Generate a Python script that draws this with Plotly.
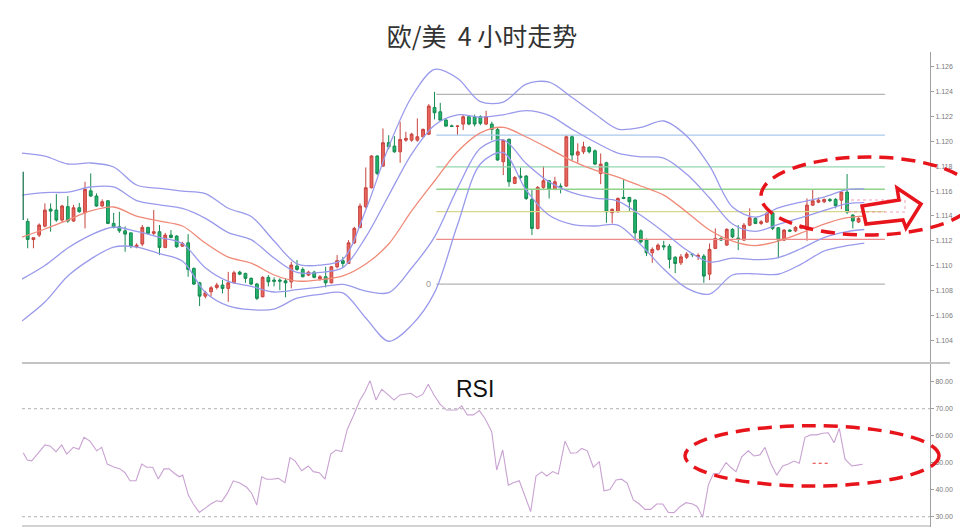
import plotly.graph_objects as go

# ---------------- data ----------------
candle_idx = list(range(146))
opens = [
1.11356, 1.11210, 1.11246, 1.11318, 1.11455, 1.11447, 1.11367, 1.11475, 1.11359, 1.11466,
1.11426, 1.11602, 1.11560, 1.11480, 1.11522, 1.11340, 1.11313, 1.11280, 1.11264, 1.11152,
1.11174, 1.11308, 1.11260, 1.11273, 1.11147, 1.11246, 1.11238, 1.11157, 1.11184, 1.10978,
1.10862, 1.10755, 1.10790, 1.10825, 1.10844, 1.10817, 1.10862, 1.10948, 1.10938, 1.10898,
1.10852, 1.10750, 1.10906, 1.10884, 1.10884, 1.10878, 1.10870, 1.10997, 1.10970, 1.10924,
1.10948, 1.10895, 1.10911, 1.10862, 1.10991, 1.11040, 1.11018, 1.11184, 1.11308, 1.11474,
1.11627, 1.11882, 1.11801, 1.11989, 1.11962, 1.11916, 1.12010, 1.12010, 1.12010, 1.12037,
1.12058, 1.12273, 1.12238, 1.12171, 1.12125, 1.12120, 1.12139, 1.12198, 1.12198, 1.12198,
1.12139, 1.12139, 1.12096, 1.11836, 1.12016, 1.11662, 1.11721, 1.11721, 1.11533, 1.11300,
1.11630, 1.11683, 1.11614, 1.11640, 1.11640, 1.12037, 1.11890, 1.11916, 1.11951, 1.11924,
1.11742, 1.11828, 1.11426, 1.11434, 1.11549, 1.11549, 1.11528, 1.11280, 1.11206, 1.11104,
1.11131, 1.11160, 1.11157, 1.11067, 1.11023, 1.11067, 1.11093, 1.11073, 1.11077, 1.10932,
1.11139, 1.11219, 1.11166, 1.11292, 1.11222, 1.11206, 1.11326, 1.11380, 1.11340, 1.11351,
1.11425, 1.11305, 1.11206, 1.11286, 1.11280, 1.11302, 1.11292, 1.11487, 1.11511, 1.11514,
1.11532, 1.11533, 1.11527, 1.11592, 1.11407, 1.11351]
highs = [
1.11380, 1.11225, 1.11340, 1.11501, 1.11501, 1.11576, 1.11490, 1.11560, 1.11490, 1.11505,
1.11675, 1.11742, 1.11582, 1.11533, 1.11528, 1.11425, 1.11434, 1.11316, 1.11264, 1.11179,
1.11327, 1.11313, 1.11447, 1.11327, 1.11264, 1.11286, 1.11246, 1.11192, 1.11254, 1.10986,
1.10870, 1.10798, 1.10836, 1.10862, 1.10884, 1.10950, 1.10959, 1.10959, 1.10943, 1.10906,
1.10862, 1.10916, 1.10924, 1.10906, 1.10898, 1.10898, 1.11031, 1.11045, 1.10986, 1.10959,
1.10959, 1.10924, 1.10991, 1.10997, 1.11085, 1.11071, 1.11206, 1.11313, 1.11501, 1.11790,
1.11890, 1.11890, 1.12104, 1.12050, 1.12042, 1.12158, 1.12077, 1.12069, 1.12185, 1.12104,
1.12300, 1.12398, 1.12310, 1.12185, 1.12135, 1.12130, 1.12211, 1.12210, 1.12215, 1.12210,
1.12246, 1.12158, 1.12112, 1.12016, 1.12024, 1.11721, 1.11790, 1.11729, 1.11608, 1.11640,
1.11801, 1.11689, 1.11715, 1.11662, 1.12050, 1.12050, 1.11984, 1.11997, 1.11962, 1.11935,
1.11903, 1.11836, 1.11461, 1.11549, 1.11694, 1.11554, 1.11533, 1.11292, 1.11220, 1.11147,
1.11179, 1.11200, 1.11174, 1.11077, 1.11093, 1.11109, 1.11101, 1.11099, 1.11093, 1.11179,
1.11300, 1.11230, 1.11302, 1.11302, 1.11326, 1.11343, 1.11461, 1.11390, 1.11367, 1.11431,
1.11431, 1.11310, 1.11294, 1.11294, 1.11318, 1.11326, 1.11541, 1.11614, 1.11549, 1.11540,
1.11544, 1.11544, 1.11600, 1.11737, 1.11415, 1.11390]
lows = [
1.11140, 1.11140, 1.11230, 1.11308, 1.11273, 1.11353, 1.11350, 1.11345, 1.11353, 1.11426,
1.11300, 1.11554, 1.11474, 1.11474, 1.11334, 1.11300, 1.11264, 1.11112, 1.11140, 1.11140,
1.11157, 1.11253, 1.11246, 1.11085, 1.11140, 1.11220, 1.11144, 1.11152, 1.10911, 1.10844,
1.10675, 1.10737, 1.10750, 1.10809, 1.10777, 1.10709, 1.10857, 1.10924, 1.10862, 1.10844,
1.10723, 1.10745, 1.10833, 1.10833, 1.10803, 1.10745, 1.10817, 1.10959, 1.10906, 1.10916,
1.10898, 1.10878, 1.10825, 1.10857, 1.10978, 1.10986, 1.11013, 1.11174, 1.11300, 1.11461,
1.11622, 1.11729, 1.11796, 1.11935, 1.11908, 1.11828, 1.11997, 1.11997, 1.11997, 1.12032,
1.12050, 1.12177, 1.12166, 1.12117, 1.12115, 1.12050, 1.12091, 1.12130, 1.12120, 1.12130,
1.12130, 1.12010, 1.11844, 1.11729, 1.11635, 1.11656, 1.11694, 1.11528, 1.11246, 1.11292,
1.11608, 1.11541, 1.11608, 1.11582, 1.11635, 1.11844, 1.11828, 1.11898, 1.11903, 1.11809,
1.11656, 1.11345, 1.11340, 1.11426, 1.11535, 1.11441, 1.11200, 1.11179, 1.11077, 1.11023,
1.11120, 1.11125, 1.10978, 1.10940, 1.11005, 1.11053, 1.11069, 1.11045, 1.10862, 1.10884,
1.11133, 1.11198, 1.11158, 1.11222, 1.11125, 1.11198, 1.11318, 1.11334, 1.11327, 1.11343,
1.11286, 1.11059, 1.11198, 1.11270, 1.11270, 1.11294, 1.11200, 1.11479, 1.11503, 1.11503,
1.11511, 1.11461, 1.11455, 1.11415, 1.11300, 1.11343]
closes = [
1.11211, 1.11225, 1.11327, 1.11447, 1.11439, 1.11367, 1.11480, 1.11359, 1.11466, 1.11434,
1.11614, 1.11560, 1.11480, 1.11514, 1.11340, 1.11308, 1.11280, 1.11254, 1.11157, 1.11165,
1.11308, 1.11260, 1.11273, 1.11147, 1.11246, 1.11227, 1.11152, 1.11179, 1.10970, 1.10852,
1.10755, 1.10782, 1.10822, 1.10844, 1.10817, 1.10862, 1.10943, 1.10932, 1.10898, 1.10852,
1.10737, 1.10906, 1.10870, 1.10874, 1.10876, 1.10862, 1.11005, 1.10970, 1.10911, 1.10948,
1.10906, 1.10911, 1.10862, 1.10991, 1.11040, 1.11018, 1.11184, 1.11300, 1.11480, 1.11627,
1.11882, 1.11742, 1.11989, 1.11956, 1.11916, 1.12016, 1.12024, 1.12058, 1.12037, 1.12096,
1.12284, 1.12230, 1.12171, 1.12123, 1.12120, 1.12123, 1.12198, 1.12139, 1.12139, 1.12145,
1.12198, 1.12096, 1.11850, 1.12010, 1.11675, 1.11710, 1.11710, 1.11541, 1.11300, 1.11630,
1.11683, 1.11614, 1.11675, 1.11630, 1.12037, 1.11890, 1.11916, 1.11956, 1.11916, 1.11817,
1.11817, 1.11433, 1.11453, 1.11541, 1.11541, 1.11514, 1.11264, 1.11192, 1.11104, 1.11131,
1.11165, 1.11152, 1.11051, 1.11018, 1.11071, 1.11093, 1.11089, 1.11083, 1.10916, 1.11131,
1.11219, 1.11206, 1.11292, 1.11232, 1.11217, 1.11326, 1.11385, 1.11340, 1.11353, 1.11423,
1.11300, 1.11206, 1.11286, 1.11278, 1.11308, 1.11313, 1.11487, 1.11522, 1.11527, 1.11533,
1.11524, 1.11483, 1.11592, 1.11431, 1.11359, 1.11380]

band_idx = [-1, 3, 7, 11, 15, 19, 23, 27, 31, 35, 39, 43, 47, 51, 55, 59, 63, 67, 71,
            75, 79, 83, 87, 91, 95, 99, 103, 107, 111, 115, 119, 123, 127, 131, 135, 139, 143, 146]
band_outer_upper = [1.11906, 1.11882, 1.11818, 1.11826, 1.11794, 1.11649, 1.11621, 1.11600, 1.11580, 1.11462,
                    1.11396, 1.11198, 1.11015, 1.11004, 1.11052, 1.11448, 1.11956, 1.12357, 1.12579, 1.12508,
                    1.12320, 1.12316, 1.12461, 1.12477, 1.12353, 1.12220, 1.12099, 1.12112, 1.12164, 1.12043,
                    1.11802, 1.11472, 1.11390, 1.11465, 1.11512, 1.11552, 1.11612, 1.11617]
band_inner_upper = [1.11568, 1.11588, 1.11592, 1.11633, 1.11633, 1.11524, 1.11490, 1.11460, 1.11381, 1.11266,
                    1.11209, 1.11061, 1.10946, 1.10946, 1.10984, 1.11230, 1.11565, 1.11898, 1.12130, 1.12213,
                    1.12195, 1.12214, 1.12248, 1.12209, 1.12098, 1.11995, 1.11906, 1.11876, 1.11866, 1.11737,
                    1.11544, 1.11335, 1.11276, 1.11332, 1.11387, 1.11444, 1.11499, 1.11508]
band_middle = [1.11230, 1.11295, 1.11367, 1.11440, 1.11472, 1.11399, 1.11359, 1.11319, 1.11182, 1.11069,
               1.11021, 1.10925, 1.10876, 1.10887, 1.10917, 1.11013, 1.11174, 1.11440, 1.11681, 1.11917,
               1.12069, 1.12113, 1.12035, 1.11942, 1.11843, 1.11769, 1.11713, 1.11641, 1.11568, 1.11432,
               1.11287, 1.11198, 1.11162, 1.11198, 1.11263, 1.11335, 1.11386, 1.11399]
band_inner_lower = [1.10892, 1.11001, 1.11142, 1.11246, 1.11311, 1.11275, 1.11228, 1.11178, 1.10983, 1.10873,
                    1.10834, 1.10788, 1.10807, 1.10828, 1.10849, 1.10796, 1.10783, 1.10981, 1.11232, 1.11622,
                    1.11944, 1.12012, 1.11822, 1.11674, 1.11588, 1.11544, 1.11520, 1.11405, 1.11271, 1.11126,
                    1.11029, 1.11061, 1.11048, 1.11065, 1.11138, 1.11226, 1.11274, 1.11291]
band_outer_lower = [1.10555, 1.10707, 1.10917, 1.11053, 1.11150, 1.11150, 1.11097, 1.11037, 1.10785, 1.10677,
                    1.10646, 1.10651, 1.10738, 1.10769, 1.10781, 1.10579, 1.10392, 1.10522, 1.10783, 1.11327,
                    1.11818, 1.11910, 1.11608, 1.11406, 1.11333, 1.11319, 1.11327, 1.11169, 1.10973, 1.10820,
                    1.10772, 1.10925, 1.10934, 1.10931, 1.11013, 1.11118, 1.11161, 1.11182]

fib_prices = [1.10852, 1.11212, 1.11435, 1.11615, 1.11795, 1.12051, 1.12378]
fib_start_idx = 71.3
fib_end_idx = 149.6

rsi_idx = [-0.77, -0.07, 0.70, 1.85, 3.02, 3.89, 4.94, 5.93, 6.81, 7.96,
           8.95, 9.83, 10.87, 12.04, 12.91, 13.89, 14.94, 16.11, 16.98, 17.85,
           18.90, 19.90, 20.77, 21.82, 22.79, 23.79, 24.66, 25.58, 26.46, 27.05,
           28.03, 28.90, 29.95, 30.94, 31.94, 32.98, 33.86, 34.90, 35.88, 36.93,
           38.22, 39.09, 39.97, 40.84, 41.71, 42.58, 43.73, 44.90, 45.78, 46.65,
           47.82, 48.97, 49.84, 50.89, 51.88, 52.88, 53.80, 54.80, 55.78, 56.82,
           57.99, 58.87, 59.74, 60.79, 61.78, 62.93, 63.93, 64.97, 66.02, 66.84,
           67.89, 68.94, 69.91, 70.91, 71.95, 73.12, 74.00, 74.87, 75.74, 76.72,
           77.77, 78.81, 79.81, 80.98, 81.85, 82.90, 83.88, 84.75, 85.79, 86.79,
           87.78, 88.71, 89.70, 90.58, 91.62, 92.60, 93.77, 94.76, 95.81, 96.68,
           97.66, 98.71, 99.76, 100.58, 101.62, 102.67, 103.66, 104.64, 105.69, 106.74,
           107.73, 108.73, 109.77, 110.82, 111.80, 112.79, 113.84, 114.89, 116.06, 116.86,
           117.80, 118.78, 119.65, 120.70, 121.87, 122.69, 123.61, 124.61, 125.76, 126.75,
           127.80, 128.67, 129.67, 130.72, 131.76, 132.74, 133.74, 134.66, 135.65, 136.65,
           137.70, 138.74, 139.72, 140.72, 141.64, 142.64, 143.81, 144.79, 145.72]
rsi_val = [53.7, 51.0, 50.7, 53.5, 56.6, 56.2, 54.1, 56.6, 53.2, 55.7,
           55.0, 59.4, 58.0, 54.4, 55.7, 49.5, 48.5, 47.7, 46.3, 43.3,
           43.3, 49.5, 48.3, 48.3, 44.0, 47.7, 47.7, 46.1, 44.8, 45.4,
           38.0, 34.7, 31.6, 33.1, 34.7, 35.9, 35.6, 38.9, 43.3, 42.6,
           40.9, 38.7, 34.3, 44.8, 43.9, 43.9, 44.2, 42.6, 51.9, 50.7,
           47.0, 48.8, 46.7, 46.3, 43.9, 53.2, 54.7, 54.1, 62.4, 67.3,
           73.2, 76.3, 80.4, 73.2, 77.2, 75.1, 73.2, 75.1, 75.3, 75.7,
           74.2, 75.3, 79.1, 75.1, 71.7, 69.5, 69.5, 69.5, 71.1, 67.7,
           67.7, 69.3, 66.4, 61.5, 47.3, 54.7, 41.7, 42.6, 43.3, 37.7,
           31.9, 45.1, 46.6, 45.1, 46.7, 45.8, 58.0, 53.5, 53.7, 55.3,
           54.4, 48.3, 50.4, 39.6, 40.1, 43.6, 43.9, 42.4, 36.2, 34.7,
           32.7, 32.7, 34.7, 34.7, 31.6, 31.5, 33.7, 35.2, 34.7, 33.7,
           29.8, 41.7, 45.8, 46.1, 50.0, 48.3, 46.7, 52.2, 54.4, 52.5,
           52.9, 55.7, 49.8, 45.4, 48.8, 49.5, 50.6, 49.8, 59.4, 60.3,
           60.3, 60.9, 61.1, 57.4, 62.7, 51.3, 48.8, 49.1, 49.4]
rsi_levels = [70, 30]

price_ticks = [1.104, 1.106, 1.108, 1.110, 1.112, 1.114, 1.116, 1.118, 1.120, 1.122, 1.124, 1.126]
rsi_ticks = [30, 40, 50, 60, 70, 80]

title_text = "欧/美\u00a0\u00a04\u00a0小时走势"

# ---------------- styling ----------------
fib_colors = ["#b4b4b4", "#ee8c8c", "#d6d68c", "#8fd38a", "#93d6b0", "#a9c9ea", "#b4b4b4"]
band_color = "#9a9aec"
mid_color = "#f08a78"
red_dash = "#e8141c"

fig = go.Figure()

for yv, col in zip(fib_prices, fib_colors):
    fig.add_trace(go.Scatter(x=[fib_start_idx, fib_end_idx], y=[yv, yv], mode="lines",
                             line=dict(color=col, width=1.3), hoverinfo="skip",
                             xaxis="x", yaxis="y"))

for series, col in [(band_outer_upper, band_color), (band_inner_upper, band_color),
                    (band_inner_lower, band_color), (band_outer_lower, band_color),
                    (band_middle, mid_color)]:
    fig.add_trace(go.Scatter(x=band_idx, y=series, mode="lines",
                             line=dict(color=col, width=1.3, shape="spline", smoothing=0.9),
                             hoverinfo="skip", xaxis="x", yaxis="y"))

fig.add_trace(go.Candlestick(
    x=candle_idx, open=opens, high=highs, low=lows, close=closes,
    increasing=dict(line=dict(color="#c8443e", width=1), fillcolor="#e8645c"),
    decreasing=dict(line=dict(color="#168a52", width=1), fillcolor="#22b46c"),
    whiskerwidth=0, hoverinfo="skip", xaxis="x", yaxis="y"))

fig.add_trace(go.Scatter(x=rsi_idx, y=rsi_val, mode="lines",
                         line=dict(color="#c9a2d2", width=1.1),
                         hoverinfo="skip", xaxis="x2", yaxis="y2"))

# The page body has an 8px margin, so the figure is drawn 8px right/down.
# Target screen geometry: plot area x 22..930, y 52..527 ; panel split at y=363
OFF = 8
W, H = 968 - OFF, 531 - OFF
ML, MR, MT, MB = 22 - OFF, 968 - 930, 52 - OFF, 531 - 527
PW, PH = W - ML - MR, H - MT - MB
split = (527 - 363) / PH

def px(x):
    return (x - 22) / PW

def py(y):
    return (527 - y) / PH

shapes = []
for lv in rsi_levels:
    shapes.append(dict(type="line", xref="paper", yref="y2", x0=0, x1=1, y0=lv, y1=lv,
                       line=dict(color="#b0b0b0", width=1, dash="dot")))
# panel separators
shapes.append(dict(type="line", xref="paper", yref="paper", x0=0, x1=px(950), y0=split, y1=split,
                   line=dict(color="#c4c4c4", width=2)))
shapes.append(dict(type="line", xref="paper", yref="paper", x0=0, x1=1, y0=0.002, y1=0.002,
                   line=dict(color="#c4c4c4", width=1.5)))
# left edge sliver
shapes.append(dict(type="line", xref="x", yref="y", x0=-0.78, x1=-0.78, y0=1.11367, y1=1.11756,
                   line=dict(color="#1f7a55", width=1.3)))
# small red dotted mark in RSI panel
shapes.append(dict(type="line", xref="x2", yref="y2", x0=137.0, x1=139.7, y0=49.8, y1=49.8,
                   line=dict(color="#e83030", width=1, dash="dot")))
# dotted pink rectangle near the arrow
shapes.append(dict(type="rect", xref="paper", yref="paper", x0=px(848), x1=px(905), y0=py(212), y1=py(200),
                   line=dict(color="rgba(235,120,150,0.7)", width=1, dash="dot")))
# red dashed ellipses
shapes.append(dict(type="circle", xref="paper", yref="paper", x0=px(761), x1=px(975), y0=py(235), y1=py(157),
                   line=dict(color=red_dash, width=3.5, dash="14px,8px")))
shapes.append(dict(type="circle", xref="paper", yref="paper", x0=px(685), x1=px(939), y0=py(486), y1=py(425.7),
                   line=dict(color=red_dash, width=3.5, dash="14px,8px")))
# hollow red arrow
pts = [(862, 206), (899, 200), (897, 188), (921, 204), (906, 228), (903, 220), (866, 224)]
path = "M " + " L ".join(f"{px(a):.5f},{py(b):.5f}" for a, b in pts) + " Z"
shapes.append(dict(type="path", xref="paper", yref="paper", path=path,
                   line=dict(color=red_dash, width=3.5), fillcolor="rgba(255,255,255,0)"))

x_lo = (22 - 27.7) / 5.73
x_hi = (930 - 27.7) / 5.73

axis_font = dict(family="Liberation Sans, Arial, sans-serif", size=7, color="#7a7a7a")

fig.update_layout(
    width=W, height=H, margin=dict(l=ML, r=MR, t=MT, b=MB),
    paper_bgcolor="white", plot_bgcolor="white", showlegend=False,
    title=dict(text=title_text, x=(482 - OFF) / W, xref="container", xanchor="center",
               y=1 - (37 - OFF) / H, yref="container", yanchor="middle",
               font=dict(family="Noto Sans CJK SC", size=25, color="#333333")),
    xaxis=dict(domain=[0, 1], range=[x_lo, x_hi], visible=False, anchor="y",
               rangeslider=dict(visible=False)),
    yaxis=dict(domain=[split, 1], range=[1.10217, 1.12719], side="right", anchor="x",
               showline=True, linecolor="#a0a0a0", linewidth=1, ticks="outside", ticklen=3,
               tickcolor="#a0a0a0", tickvals=price_ticks, tickformat=".3f", tickfont=axis_font,
               showgrid=False, zeroline=False),
    xaxis2=dict(domain=[0, 1], range=[x_lo, x_hi], visible=False, anchor="y2", matches="x"),
    yaxis2=dict(domain=[0, split], range=[26.19, 86.93], side="right", anchor="x2",
                showline=True, linecolor="#a0a0a0", linewidth=1, ticks="outside", ticklen=3,
                tickcolor="#a0a0a0", tickvals=rsi_ticks, tickformat=".2f", tickfont=axis_font,
                showgrid=False, zeroline=False),
    shapes=shapes,
    annotations=[
        dict(text="RSI", xref="paper", yref="paper", x=px(475), y=py(389), showarrow=False,
             font=dict(family="Liberation Sans, Arial, sans-serif", size=23, color="#111111"),
             xanchor="center", yanchor="middle"),
        dict(text="0", xref="x", yref="y", x=70.0, y=fib_prices[0], showarrow=False,
             font=dict(family="Liberation Sans, Arial, sans-serif", size=9, color="#999999"),
             xanchor="center", yanchor="middle"),
    ],
)

fig.write_html("out.html")
